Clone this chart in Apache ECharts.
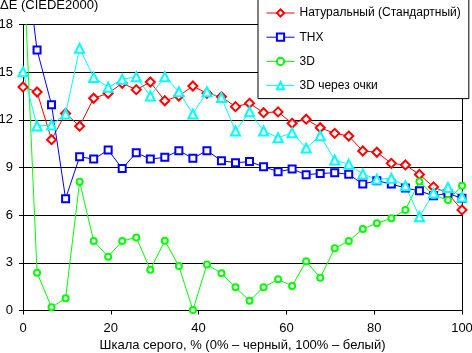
<!DOCTYPE html>
<html>
<head>
<meta charset="utf-8">
<script src="https://cdn.jsdelivr.net/npm/echarts@6/dist/echarts.min.js"></script>
<style>
html, body { margin: 0; padding: 0; background: #fff; }
#chart { width: 472px; height: 353px; }
</style>
</head>
<body>
<div id="chart"></div>
<script>
var fontName = "'Liberation Sans', Arial, sans-serif";

// gray level, %
var grayLevels = [0, 3.2, 6.5, 9.7, 12.9, 16.1, 19.4, 22.6, 25.8, 29.0, 32.3, 35.5, 38.7, 41.9, 45.2, 48.4,
	51.6, 54.8, 58.1, 61.3, 64.5, 67.7, 71.0, 74.2, 77.4, 80.6, 83.9, 87.1, 90.3, 93.5, 96.8, 100];

var seriesNames = ['Натуральный (Стандартный)', 'THX', '3D', '3D через очки'];

var naturalValues = [14.07, 13.75, 10.75, 12.4, 11.6, 13.36, 13.67, 14.3, 13.9, 14.38, 13.2, 13.5, 14.13, 13.67, 13.45, 12.83,
	13.04, 12.45, 12.5, 11.78, 12.04, 11.5, 11.15, 10.98, 10.04, 9.96, 9.26, 9.16, 8.56, 7.78, 7.36, 6.33];
var thxValues = [23.5, 16.4, 12.95, 7.04, 9.68, 9.53, 10.1, 8.93, 9.93, 9.53, 9.64, 10.06, 9.58, 10.06, 9.43, 9.3,
	9.37, 9.05, 8.74, 8.9, 8.55, 8.62, 8.67, 8.57, 7.96, 8.17, 7.96, 7.71, 7.53, 7.22, 7.37, 7.06];
var d3Values = [22.6, 2.38, 0.2, 0.77, 8.1, 4.37, 3.39, 4.37, 4.6, 2.57, 4.39, 2.8, 0.03, 2.9, 2.34, 1.46,
	0.62, 1.46, 1.96, 1.54, 3.1, 2.06, 3.91, 4.37, 5.13, 5.49, 5.8, 6.32, 8.12, 7.27, 6.95, 7.85];
var glassesValues = [15.03, 11.61, 11.67, 12.37, 16.5, 14.67, 14.05, 14.55, 14.71, 13.5, 14.71, 13.77, 12.37, 13.77, 13.4, 11.3,
	12.51, 11.3, 10.87, 11.19, 10.22, 11.0, 9.47, 9.2, 8.59, 8.26, 8.32, 7.85, 5.9, 7.4, 7.74, 7.14];

var seriesColors = ['#ff0000', '#0000ff', '#00ff00', '#00ffff'];
var seriesSymbols = ['emptyDiamond', 'emptyRect', 'emptyCircle', 'emptyTriangle'];
var symbolSizes = [9, 7, 6, 9];

function toPairs(values){
	var out = [];
	for (var i = 0; i < values.length; i++) {
		out.push([grayLevels[i], values[i]]);
	}
	return out;
}

var allValues = [naturalValues, thxValues, d3Values, glassesValues];
var series = [];
for (var i = 0; i < allValues.length; i++) {
	series.push({
		name: seriesNames[i],
		type: 'line',
		data: toPairs(allValues[i]),
		symbol: seriesSymbols[i],
		symbolSize: symbolSizes[i],
		showAllSymbol: true,
		clip: true,
		animation: false,
		lineStyle: { color: seriesColors[i], width: 1 },
		itemStyle: { color: seriesColors[i], borderColor: seriesColors[i], borderWidth: 1 },
		emphasis: { disabled: true }
	});
}

var myChart = echarts.init(document.getElementById('chart'));
var option = {
	backgroundColor: '#fff',
	animation: false,
	textStyle: { fontFamily: fontName },
	title: {
		text: 'ΔE (CIEDE2000)',
		left: 0,
		top: -1,
		padding: 0,
		textStyle: { fontSize: 13, fontWeight: 'normal', color: '#000', fontFamily: fontName }
	},
	legend: {
		orient: 'vertical',
		left: 258,
		top: -1,
		padding: [8, 8, 7, 8],
		itemWidth: 28,
		itemHeight: 9,
		itemGap: 12.2,
		backgroundColor: '#fff',
		borderColor: '#000',
		borderWidth: 1,
		borderRadius: 0,
		itemStyle: { borderWidth: 1 },
		lineStyle: { width: 1 },
		textStyle: { fontSize: 12, color: '#000', fontFamily: fontName },
		data: seriesNames
	},
	grid: { left: 23, right: 10, top: 24.5, bottom: 42.5, outerBoundsMode: 'none', containLabel: false },
	xAxis: {
		type: 'value',
		min: 0,
		max: 100,
		interval: 20,
		name: 'Шкала серого, % (0% – черный, 100% – белый)',
		nameLocation: 'middle',
		nameGap: 26,
		nameTextStyle: { fontSize: 13, color: '#000', fontFamily: fontName },
		axisLine: { lineStyle: { color: '#000', width: 1 } },
		axisTick: { show: true, length: 4, lineStyle: { color: '#000' } },
		axisLabel: { fontSize: 13, color: '#000', margin: 11, fontFamily: fontName },
		splitLine: { show: false }
	},
	yAxis: [{
		type: 'value',
		min: 0,
		max: 18,
		interval: 3,
		axisLine: { show: true, lineStyle: { color: '#000', width: 1 } },
		axisTick: { show: true, length: 4, lineStyle: { color: '#000' } },
		axisLabel: { fontSize: 13, color: '#000', margin: 10, fontFamily: fontName },
		splitLine: { show: true, lineStyle: { color: '#000', width: 1 } }
	}, {
		type: 'value',
		position: 'right',
		min: 0,
		max: 18,
		interval: 3,
		axisLine: { show: true, lineStyle: { color: '#000', width: 1 } },
		axisTick: { show: false },
		axisLabel: { show: false },
		splitLine: { show: false }
	}],
	series: series
};
myChart.setOption(option);
</script>
</body>
</html>
